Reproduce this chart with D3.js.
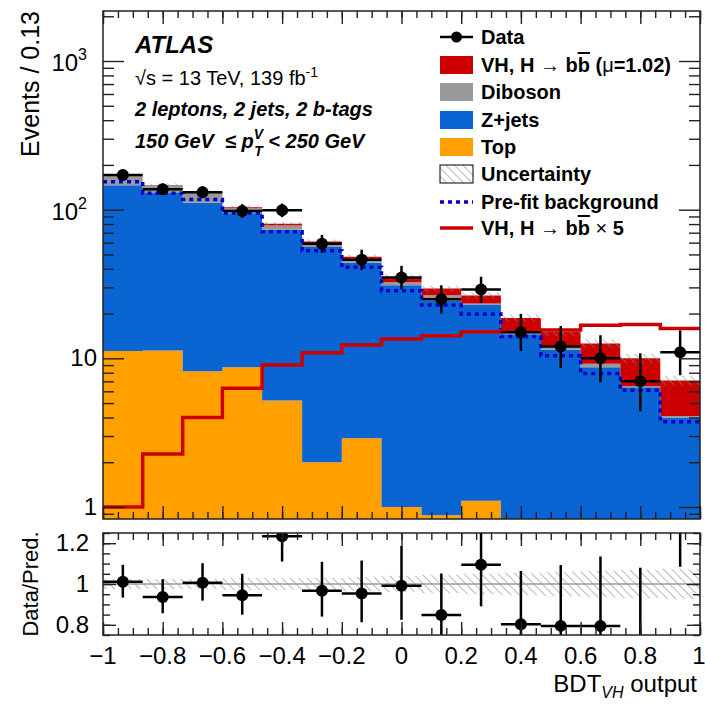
<!DOCTYPE html>
<html lang="en">
<head>
<meta charset="UTF-8">
<title>BDT_VH output</title>
<script src="https://cdn.jsdelivr.net/npm/d3@7"></script>
<style>
    body { margin: 0; background: #fff; }
    text { font-family: "Liberation Sans", Arial, Helvetica, sans-serif; fill: #000; }
    .tick line { stroke: #222; stroke-width: 1.4; }
</style>
</head>
<body>
<svg id="chart" width="705" height="704"></svg>
<script>
    // bins of BDT_VH output (15 bins, width 0.13)
    const binEdges = [-1, -0.867, -0.733, -0.6, -0.467, -0.333, -0.2, -0.067, 0.067, 0.2, 0.333, 0.467, 0.6, 0.733, 0.867, 1];

    // stacked backgrounds + signal, events per bin (post-fit)
    const topBkg  = [11.2, 11.3, 8.2, 8.7, 5.2, 2.0, 2.9, 1.0, 0.88, 1.1, 0.5, 0.4, 0.3, 0.3, 0.3];
    const zjets   = [135, 118, 103, 86, 68, 54, 41, 30, 23.6, 21.9, 14.0, 11.0, 8.4, 6.1, 3.7];
    const diboson = [22.8, 16.5, 18.2, 7.7, 5.2, 2.8, 1.8, 1.5, 2.1, 0.4, 1.0, 0.5, 0.5, 0.1, 0.1];
    const signal  = [0.2, 0.46, 0.82, 1.3, 1.85, 2.25, 2.55, 2.8, 2.9, 3.1, 3.2, 3.2, 3.4, 3.5, 3.0];

    // relative uncertainty on total prediction
    const uncRel = [0.025, 0.025, 0.025, 0.03, 0.03, 0.03, 0.035, 0.04, 0.045, 0.05, 0.055, 0.06, 0.065, 0.07, 0.075];

    // overlays
    const prefitBkg = [154, 129, 117, 95, 71, 53, 41, 28.5, 22.8, 19.9, 14.0, 10.4, 7.9, 6.1, 3.75];
    const signalX5  = [1.0, 2.27, 4.0, 6.3, 9.0, 10.9, 12.3, 13.5, 14.2, 15.1, 15.3, 15.5, 16.7, 16.9, 15.9];

    // data with asymmetric errors
    const dataVals  = [171, 137, 131, 98, 99, 59, 46, 35, 25, 29, 15, 12, 10, 7, 11];
    const dataErrLo = [13.1, 11.7, 11.4, 9.9, 9.9, 7.7, 6.8, 5.9, 5.0, 5.4, 3.8, 3.4, 3.1, 2.6, 3.3];
    const dataErrHi = [14.1, 12.7, 12.5, 10.9, 11.0, 8.7, 7.8, 6.9, 6.0, 6.4, 4.9, 4.5, 4.3, 3.8, 4.4];

    // axis ticks
    const xMajor = [-1, -0.8, -0.6, -0.4, -0.2, 0, 0.2, 0.4, 0.6, 0.8, 1];
    const xTickLabels = ['\u22121', '\u22120.8', '\u22120.6', '\u22120.4', '\u22120.2', '0', '0.2', '0.4', '0.6', '0.8', '1'];
    const yMajor = [1, 10, 100, 1000];
    const rMajor = [0.8, 1, 1.2];
    const rTickLabels = ['0.8', '1', '1.2'];

    const colors = {top: '#ffa000', zjets: '#0a64d2', diboson: '#999999', signal: '#cc0000', prefit: '#0000cc'};

    const main = {left: 103, right: 700, top: 11, bottom: 519},
        ratio = {top: 533, bottom: 635};

    const svg = d3.select('#chart');

    const x = d3.scaleLinear().domain([-1, 1]).range([main.left, main.right]),
        y = d3.scaleLog().domain([0.83, 2170]).range([main.bottom, main.top]),
        yr = d3.scaleLinear().domain([0.75, 1.25]).range([ratio.bottom, ratio.top]);

    // hatch + clip definitions
    const defs = svg.append('defs');
    defs.append('pattern')
        .attr('id', 'hatch').attr('patternUnits', 'userSpaceOnUse')
        .attr('width', 6).attr('height', 6)
        .attr('patternTransform', 'rotate(-45)')
        .append('line')
        .attr('x1', 0).attr('y1', 0).attr('x2', 0).attr('y2', 6)
        .attr('stroke', '#8a8a8a').attr('stroke-width', 1.2);
    defs.append('clipPath').attr('id', 'clipMain').append('rect')
        .attr('x', main.left).attr('y', main.top)
        .attr('width', main.right - main.left).attr('height', main.bottom - main.top);
    defs.append('clipPath').attr('id', 'clipRatio').append('rect')
        .attr('x', main.left).attr('y', ratio.top)
        .attr('width', main.right - main.left).attr('height', ratio.bottom - ratio.top);

    // table per bin
    const bins = binEdges.slice(0, -1).map((lo, i) => ({
        lo: lo, hi: binEdges[i + 1], c: (lo + binEdges[i + 1]) / 2,
        top: topBkg[i], zjets: zjets[i], diboson: diboson[i], signal: signal[i],
        unc: uncRel[i], prefit: prefitBkg[i], sx5: signalX5[i],
        data: dataVals[i], lo_err: dataErrLo[i], hi_err: dataErrHi[i]
    }));
    bins.forEach(b => {
        b.total = b.top + b.zjets + b.diboson + b.signal;
        b.ratio = b.data / b.total;
    });
    const lastBin = bins[bins.length - 1];

    /**
     * main panel
     */
    const gMain = svg.append('g').attr('clip-path', 'url(#clipMain)');
    const keys = ['top', 'zjets', 'diboson', 'signal'];
    const series = d3.stack().keys(keys)(bins);
    const yBottom = y.domain()[0];

    // each layer drawn as one stepped area (no seams between bins)
    const stepArea = d3.area()
        .x(d => x(d.x))
        .y0(d => y(Math.max(d.y0, yBottom)))
        .y1(d => y(Math.max(d.y1, yBottom)))
        .curve(d3.curveStepAfter);
    const layerPts = s => s.map(d => ({x: d.data.lo, y0: d[0], y1: d[1]}))
        .concat([{x: 1, y0: s[s.length - 1][0], y1: s[s.length - 1][1]}]);

    gMain.selectAll('path.layer')
        .data(series).enter().append('path')
        .attr('class', 'layer')
        .attr('fill', s => colors[s.key])
        .attr('d', s => stepArea(layerPts(s)));

    // uncertainty hatch on total
    const uncPts = bins.map(b => ({x: b.lo, y0: b.total * (1 - b.unc), y1: b.total * (1 + b.unc)}));
    uncPts.push({x: 1, y0: lastBin.total * (1 - lastBin.unc), y1: lastBin.total * (1 + lastBin.unc)});
    gMain.append('path')
        .attr('fill', 'url(#hatch)')
        .attr('d', stepArea(uncPts));

    // step lines
    const stepPts = key => bins.map(b => [b.lo, b[key]]).concat([[1, lastBin[key]]]);
    const stepLine = d3.line().x(d => x(d[0])).y(d => y(d[1])).curve(d3.curveStepAfter);

    gMain.append('path')
        .attr('d', stepLine(stepPts('prefit')))
        .attr('fill', 'none').attr('stroke', colors.prefit)
        .attr('stroke-width', 3.5).attr('stroke-dasharray', '4,4');

    gMain.append('path')
        .attr('d', stepLine(stepPts('sx5')))
        .attr('fill', 'none').attr('stroke', colors.signal)
        .attr('stroke-width', 3.5);

    // data points
    const gData = gMain.append('g');
    gData.selectAll('line.xerr')
        .data(bins).enter().append('line')
        .attr('x1', d => x(d.lo)).attr('x2', d => x(d.hi))
        .attr('y1', d => y(d.data)).attr('y2', d => y(d.data))
        .attr('stroke', '#000').attr('stroke-width', 2.5);
    gData.selectAll('line.yerr')
        .data(bins).enter().append('line')
        .attr('x1', d => x(d.c)).attr('x2', d => x(d.c))
        .attr('y1', d => y(d.data - d.lo_err)).attr('y2', d => y(d.data + d.hi_err))
        .attr('stroke', '#000').attr('stroke-width', 2.5);
    gData.selectAll('circle')
        .data(bins).enter().append('circle')
        .attr('cx', d => x(d.c)).attr('cy', d => y(d.data)).attr('r', 6)
        .attr('fill', '#000');

    /**
     * ratio panel
     */
    const gRatio = svg.append('g').attr('clip-path', 'url(#clipRatio)');
    const ratioArea = d3.area().x(d => x(d.x)).y0(d => yr(1 - d.u)).y1(d => yr(1 + d.u)).curve(d3.curveStepAfter);
    gRatio.append('path')
        .attr('fill', 'url(#hatch)')
        .attr('d', ratioArea(bins.map(b => ({x: b.lo, u: b.unc})).concat([{x: 1, u: lastBin.unc}])));
    gRatio.append('line')
        .attr('x1', x(-1)).attr('x2', x(1))
        .attr('y1', yr(1)).attr('y2', yr(1))
        .attr('stroke', '#9a9a9a').attr('stroke-width', 1.5);
    gRatio.selectAll('line.xerr')
        .data(bins).enter().append('line')
        .attr('x1', d => x(d.lo)).attr('x2', d => x(d.hi))
        .attr('y1', d => yr(d.ratio)).attr('y2', d => yr(d.ratio))
        .attr('stroke', '#000').attr('stroke-width', 2.5);
    gRatio.selectAll('line.yerr')
        .data(bins).enter().append('line')
        .attr('x1', d => x(d.c)).attr('x2', d => x(d.c))
        .attr('y1', d => yr((d.data - d.lo_err) / d.total))
        .attr('y2', d => yr((d.data + d.hi_err) / d.total))
        .attr('stroke', '#000').attr('stroke-width', 2.5);
    gRatio.selectAll('circle')
        .data(bins).enter().append('circle')
        .attr('cx', d => x(d.c)).attr('cy', d => yr(d.ratio)).attr('r', 6)
        .attr('fill', '#000');

    /**
     * axes (ROOT style: ticks inside on all four sides)
     */
    const xMinor = d3.range(-1, 1.0001, 0.05);
    const logMinor = [];
    [0.1, 1, 10, 100, 1000].forEach(d => d3.range(2, 10).forEach(k => {
        const v = d * k;
        if (v > y.domain()[0] && v < y.domain()[1]) logMinor.push(v);
    }));
    const rMinor = d3.range(0.75, 1.2501, 0.05);

    function addAxis(axis, tx, ty) {
        const g = svg.append('g').attr('transform', 'translate(' + tx + ',' + ty + ')').call(axis);
        g.select('.domain').remove();
        g.selectAll('text').remove();
    }

    // main x
    addAxis(d3.axisBottom(x).tickValues(xMajor).tickSize(-13), 0, main.bottom);
    addAxis(d3.axisBottom(x).tickValues(xMinor).tickSize(-7), 0, main.bottom);
    addAxis(d3.axisTop(x).tickValues(xMajor).tickSize(-13), 0, main.top);
    addAxis(d3.axisTop(x).tickValues(xMinor).tickSize(-7), 0, main.top);
    // main y
    addAxis(d3.axisLeft(y).tickValues(yMajor).tickSize(-21), main.left, 0);
    addAxis(d3.axisLeft(y).tickValues(logMinor).tickSize(-11), main.left, 0);
    addAxis(d3.axisRight(y).tickValues(yMajor).tickSize(-21), main.right, 0);
    addAxis(d3.axisRight(y).tickValues(logMinor).tickSize(-11), main.right, 0);
    // ratio x
    addAxis(d3.axisBottom(x).tickValues(xMajor).tickSize(-13), 0, ratio.bottom);
    addAxis(d3.axisBottom(x).tickValues(xMinor).tickSize(-7), 0, ratio.bottom);
    addAxis(d3.axisTop(x).tickValues(xMajor).tickSize(-13), 0, ratio.top);
    addAxis(d3.axisTop(x).tickValues(xMinor).tickSize(-7), 0, ratio.top);
    // ratio y
    addAxis(d3.axisLeft(yr).tickValues(rMajor).tickSize(-13), main.left, 0);
    addAxis(d3.axisLeft(yr).tickValues(rMinor).tickSize(-7), main.left, 0);
    addAxis(d3.axisRight(yr).tickValues(rMajor).tickSize(-13), main.right, 0);
    addAxis(d3.axisRight(yr).tickValues(rMinor).tickSize(-7), main.right, 0);

    // frames
    [[main.top, main.bottom], [ratio.top, ratio.bottom]].forEach(p => {
        svg.append('rect')
            .attr('x', main.left).attr('y', p[0])
            .attr('width', main.right - main.left).attr('height', p[1] - p[0])
            .attr('fill', 'none').attr('stroke', '#222').attr('stroke-width', 1.5);
    });

    // tick labels
    const yLab = svg.append('g').attr('font-size', 24).attr('text-anchor', 'end');
    yMajor.forEach(v => {
        const t = yLab.append('text').attr('x', 97).attr('y', y(v) + 8);
        if (v >= 100) {
            t.attr('x', 87);
            t.append('tspan').text('10');
            t.append('tspan').attr('dy', -11).attr('font-size', 16).text(Math.round(Math.log10(v)));
            t.attr('y', y(v) + 10);
        } else {
            t.text(v);
        }
    });
    rMajor.forEach((v, i) => {
        yLab.append('text').attr('x', 89).attr('y', yr(v) + 8).text(rTickLabels[i]);
    });
    const xLab = svg.append('g').attr('font-size', 24).attr('text-anchor', 'middle');
    xMajor.forEach((v, i) => {
        xLab.append('text').attr('x', x(v) + (i === xMajor.length - 1 ? -1 : 0)).attr('y', 664).text(xTickLabels[i]);
    });

    // axis titles
    svg.append('text')
        .attr('transform', 'translate(39,11) rotate(-90)')
        .attr('text-anchor', 'end').attr('font-size', 25)
        .text('Events / 0.13');
    svg.append('text')
        .attr('transform', 'translate(38,' + yr(1) + ') rotate(-90)')
        .attr('text-anchor', 'middle').attr('font-size', 22)
        .text('Data/Pred.');
    const xt = svg.append('text')
        .attr('x', 697).attr('y', 692).attr('text-anchor', 'end').attr('font-size', 24);
    xt.append('tspan').text('BDT');
    xt.append('tspan').attr('dy', 6).attr('font-size', 16).attr('font-style', 'italic').text('VH');
    xt.append('tspan').attr('dy', -6).text(' output');

    // ATLAS label block
    svg.append('text').attr('x', 135).attr('y', 53)
        .attr('font-size', 24).attr('font-weight', 'bold').attr('font-style', 'italic')
        .text('ATLAS');
    const lumi = svg.append('text').attr('x', 135).attr('y', 85).attr('font-size', 20);
    lumi.append('tspan').text('\u221As = 13 TeV, 139 fb');
    lumi.append('tspan').attr('dy', -8).attr('font-size', 14).text('-1');
    svg.append('text').attr('x', 135).attr('y', 116)
        .attr('font-size', 20).attr('font-weight', 'bold').attr('font-style', 'italic')
        .text('2 leptons, 2 jets, 2 b-tags');
    const ptl = svg.append('text').attr('x', 135).attr('y', 148)
        .attr('font-size', 20).attr('font-weight', 'bold').attr('font-style', 'italic');
    ptl.append('tspan').text('150 GeV \u00A0\u2264 p');
    ptl.append('tspan').attr('dx', 0).attr('dy', -9).attr('font-size', 14).text('V');
    ptl.append('tspan').attr('dx', -9).attr('dy', 17).attr('font-size', 14).text('T');
    ptl.append('tspan').attr('dy', -8).text(' < 250 GeV');

    /**
     * legend
     */
    const legend = svg.append('g').attr('font-size', 20).attr('font-weight', 'bold');
    const lx = 440, lw = 33, ltx = 481;
    const legRows = [37, 65, 92, 120, 147, 174, 202, 228];

    function hbb(t, tail) {
        t.append('tspan').text('VH, H ');
        t.append('tspan').attr('font-weight', 'normal').text('\u2192');
        t.append('tspan').text(' b');
        t.append('tspan').style('text-decoration', 'overline').text('b');
        tail(t);
    }

    // Data
    legend.append('line').attr('x1', lx).attr('x2', lx + lw).attr('y1', legRows[0]).attr('y2', legRows[0])
        .attr('stroke', '#000').attr('stroke-width', 2.5);
    legend.append('circle').attr('cx', lx + lw / 2).attr('cy', legRows[0]).attr('r', 5.5).attr('fill', '#000');
    legend.append('text').attr('x', ltx).attr('y', legRows[0] + 7).text('Data');
    // filled boxes
    [['signal', null], ['diboson', 'Diboson'], ['zjets', 'Z+jets'], ['top', 'Top']].forEach((e, i) => {
        const cy = legRows[i + 1];
        legend.append('rect').attr('x', lx).attr('y', cy - 9).attr('width', lw).attr('height', 18)
            .attr('fill', colors[e[0]]);
        const t = legend.append('text').attr('x', ltx).attr('y', cy + 7);
        if (e[1]) t.text(e[1]);
        else hbb(t, tt => {
            tt.append('tspan').text(' (');
            tt.append('tspan').attr('font-weight', 'normal').text('\u03BC');
            tt.append('tspan').text('=1.02)');
        });
    });
    // Uncertainty
    legend.append('rect').attr('x', lx).attr('y', legRows[5] - 9).attr('width', lw).attr('height', 18)
        .attr('fill', 'url(#hatch)').attr('stroke', '#000').attr('stroke-width', 1);
    legend.append('text').attr('x', ltx).attr('y', legRows[5] + 7).text('Uncertainty');
    // Pre-fit
    legend.append('line').attr('x1', lx).attr('x2', lx + lw).attr('y1', legRows[6]).attr('y2', legRows[6])
        .attr('stroke', colors.prefit).attr('stroke-width', 3.5).attr('stroke-dasharray', '4,4');
    legend.append('text').attr('x', ltx).attr('y', legRows[6] + 7).text('Pre-fit background');
    // signal x5
    legend.append('line').attr('x1', lx).attr('x2', lx + lw).attr('y1', legRows[7]).attr('y2', legRows[7])
        .attr('stroke', colors.signal).attr('stroke-width', 3.5);
    const t5 = legend.append('text').attr('x', ltx).attr('y', legRows[7] + 7);
    hbb(t5, tt => {
        tt.append('tspan').attr('font-weight', 'normal').text(' \u00D7');
        tt.append('tspan').text(' 5');
    });
</script>
</body>
</html>
